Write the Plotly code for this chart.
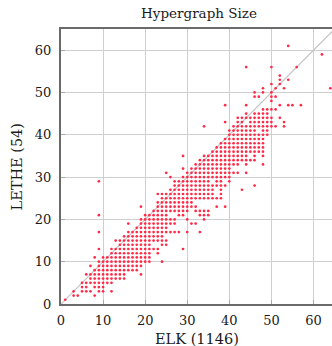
import plotly.graph_objects as go

# LETHE hypergraph size (y) for each ELK hypergraph size (x)
lethe_by_elk = {
    1: [1],
    3: [2, 3],
    4: [2],
    5: [3, 4, 5],
    6: [3, 4, 5, 7],
    7: [3, 5, 6, 7, 9],
    8: [2, 4, 5, 6, 7, 8, 11],
    9: [3, 4, 5, 6, 7, 8, 9, 10, 13, 17, 21, 29],
    10: [3, 4, 5, 6, 7, 8, 9, 10, 11],
    11: [5, 6, 7, 8, 9, 10, 11],
    12: [3, 5, 6, 7, 8, 9, 10, 11, 12, 13],
    13: [6, 7, 8, 9, 10, 11, 12, 13, 15],
    14: [6, 7, 8, 9, 10, 11, 12, 13, 14, 15],
    15: [6, 7, 8, 9, 10, 11, 12, 13, 14, 15, 16],
    16: [8, 9, 10, 11, 12, 13, 14, 15, 16, 17, 19],
    17: [8, 9, 10, 11, 12, 13, 14, 15, 16, 17],
    18: [8, 9, 10, 11, 12, 13, 14, 15, 16, 17, 18],
    19: [7, 9, 10, 11, 12, 13, 14, 15, 16, 17, 18, 19, 20, 23],
    20: [10, 11, 12, 13, 14, 15, 16, 17, 18, 19, 20, 21],
    21: [10, 11, 12, 13, 14, 15, 16, 17, 18, 19, 20, 21],
    22: [13, 15, 16, 17, 18, 19, 20, 21, 22],
    23: [12, 13, 15, 16, 17, 18, 19, 20, 21, 22, 23, 24, 26],
    24: [10, 14, 15, 16, 17, 18, 19, 20, 21, 22, 23, 24, 25, 26],
    25: [14, 15, 17, 18, 19, 20, 21, 22, 23, 24, 25, 26, 31],
    26: [17, 19, 20, 22, 23, 24, 25, 26, 27, 30],
    27: [17, 19, 20, 22, 23, 24, 25, 26, 27, 28, 29],
    28: [17, 21, 22, 23, 24, 25, 26, 27, 28, 29],
    29: [13, 21, 22, 23, 24, 25, 26, 27, 28, 29, 30, 32, 35],
    30: [17, 20, 22, 23, 24, 25, 26, 27, 28, 29, 30, 31],
    31: [19, 23, 24, 25, 26, 27, 28, 29, 30, 31, 32],
    32: [19, 22, 23, 25, 26, 27, 28, 29, 30, 31, 32, 33],
    33: [17, 21, 22, 25, 26, 27, 28, 29, 30, 31, 32, 33, 34],
    34: [20, 21, 22, 25, 26, 27, 28, 29, 30, 31, 32, 33, 34, 35, 42],
    35: [21, 22, 25, 26, 27, 28, 29, 30, 31, 32, 33, 34, 35],
    36: [25, 26, 27, 28, 30, 31, 32, 33, 34, 35, 36],
    37: [23, 25, 28, 29, 30, 31, 32, 33, 34, 35, 36, 37],
    38: [25, 26, 27, 28, 29, 30, 31, 32, 33, 34, 35, 36, 37, 38],
    39: [23, 28, 30, 31, 32, 33, 34, 35, 36, 37, 38, 39, 43, 47],
    40: [29, 30, 31, 32, 33, 34, 35, 36, 37, 38, 39, 40, 41],
    41: [31, 33, 34, 35, 36, 37, 38, 39, 40, 41, 42],
    42: [31, 33, 34, 35, 36, 37, 38, 39, 40, 41, 42, 43, 44],
    43: [27, 34, 35, 36, 37, 38, 39, 40, 41, 42, 43, 44],
    44: [31, 33, 34, 35, 36, 37, 38, 39, 40, 41, 42, 44, 45, 47, 56],
    45: [34, 36, 37, 38, 39, 40, 41, 42, 43, 44],
    46: [28, 34, 35, 36, 37, 38, 39, 40, 41, 42, 43, 44, 45, 49, 50],
    47: [36, 37, 38, 39, 40, 42, 43, 44, 45, 49],
    48: [33, 35, 36, 37, 38, 39, 40, 41, 42, 43, 44, 45, 46, 50, 51],
    49: [40, 41, 42, 43, 44, 45, 46],
    50: [42, 43, 44, 46, 48, 49, 50, 52, 56],
    51: [42, 46, 49, 51],
    52: [44, 47, 52, 53, 54],
    53: [42, 43, 51],
    54: [47, 53, 61],
    55: [47],
    56: [56],
    57: [47],
    62: [59],
    64: [51],
}

elk_size = [x for x, ys in lethe_by_elk.items() for _ in ys]
lethe_size = [y for ys in lethe_by_elk.values() for y in ys]

tick_vals = [0, 10, 20, 30, 40, 50, 60]
diag = [0, 70]

FONT = "DejaVu Serif"
W, H = 332, 346
L, R, T, B = 61, 0, 29, 42

fig = go.Figure()
fig.add_trace(go.Scatter(x=diag, y=diag, mode="lines",
                         line=dict(color="#c4c4c4", width=1.2),
                         hoverinfo="skip", showlegend=False))
fig.add_trace(go.Scatter(x=elk_size, y=lethe_size, mode="markers",
                         marker=dict(color="#ff2a48", size=2.7, line=dict(width=0)),
                         showlegend=False))

axis_common = dict(
    tickvals=tick_vals,
    showgrid=True, gridcolor="#cfcfcf", gridwidth=1.3,
    zeroline=False,
    ticks="inside", ticklen=4, tickwidth=1.3, tickcolor="#a8a8a8",
    tickfont=dict(family=FONT, size=13, color="#1a1a1a"),
    showline=True, linecolor="#6a6a6a", linewidth=2,
)

fig.update_layout(
    width=W, height=H,
    margin=dict(l=L, r=R, t=T, b=B, pad=0),
    paper_bgcolor="white", plot_bgcolor="white",
    xaxis=dict(range=[0, 64.4], mirror=True, ticklabelstandoff=3, **axis_common),
    yaxis=dict(range=[0, 65], mirror=False, ticklabelstandoff=5, **axis_common),
    title=dict(text="Hypergraph Size", font=dict(family=FONT, size=13.5, color="#1a1a1a"),
               xref="container", yref="container", x=199 / W, y=1 - 13 / H,
               xanchor="center", yanchor="middle"),
    annotations=[
        dict(text="ELK (1146)", xref="paper", yref="paper",
             x=0.5, y=-(339 - (H - B)) / (H - T - B), xanchor="center", yanchor="middle",
             showarrow=False, font=dict(family=FONT, size=14.5, color="#1a1a1a")),
        dict(text="LETHE (54)", xref="paper", yref="paper", textangle=-90,
             x=-(L - 16) / (W - L - R), y=0.5, xanchor="center", yanchor="middle",
             showarrow=False, font=dict(family=FONT, size=14.5, color="#1a1a1a")),
    ],
)

fig.write_html("out.html")
